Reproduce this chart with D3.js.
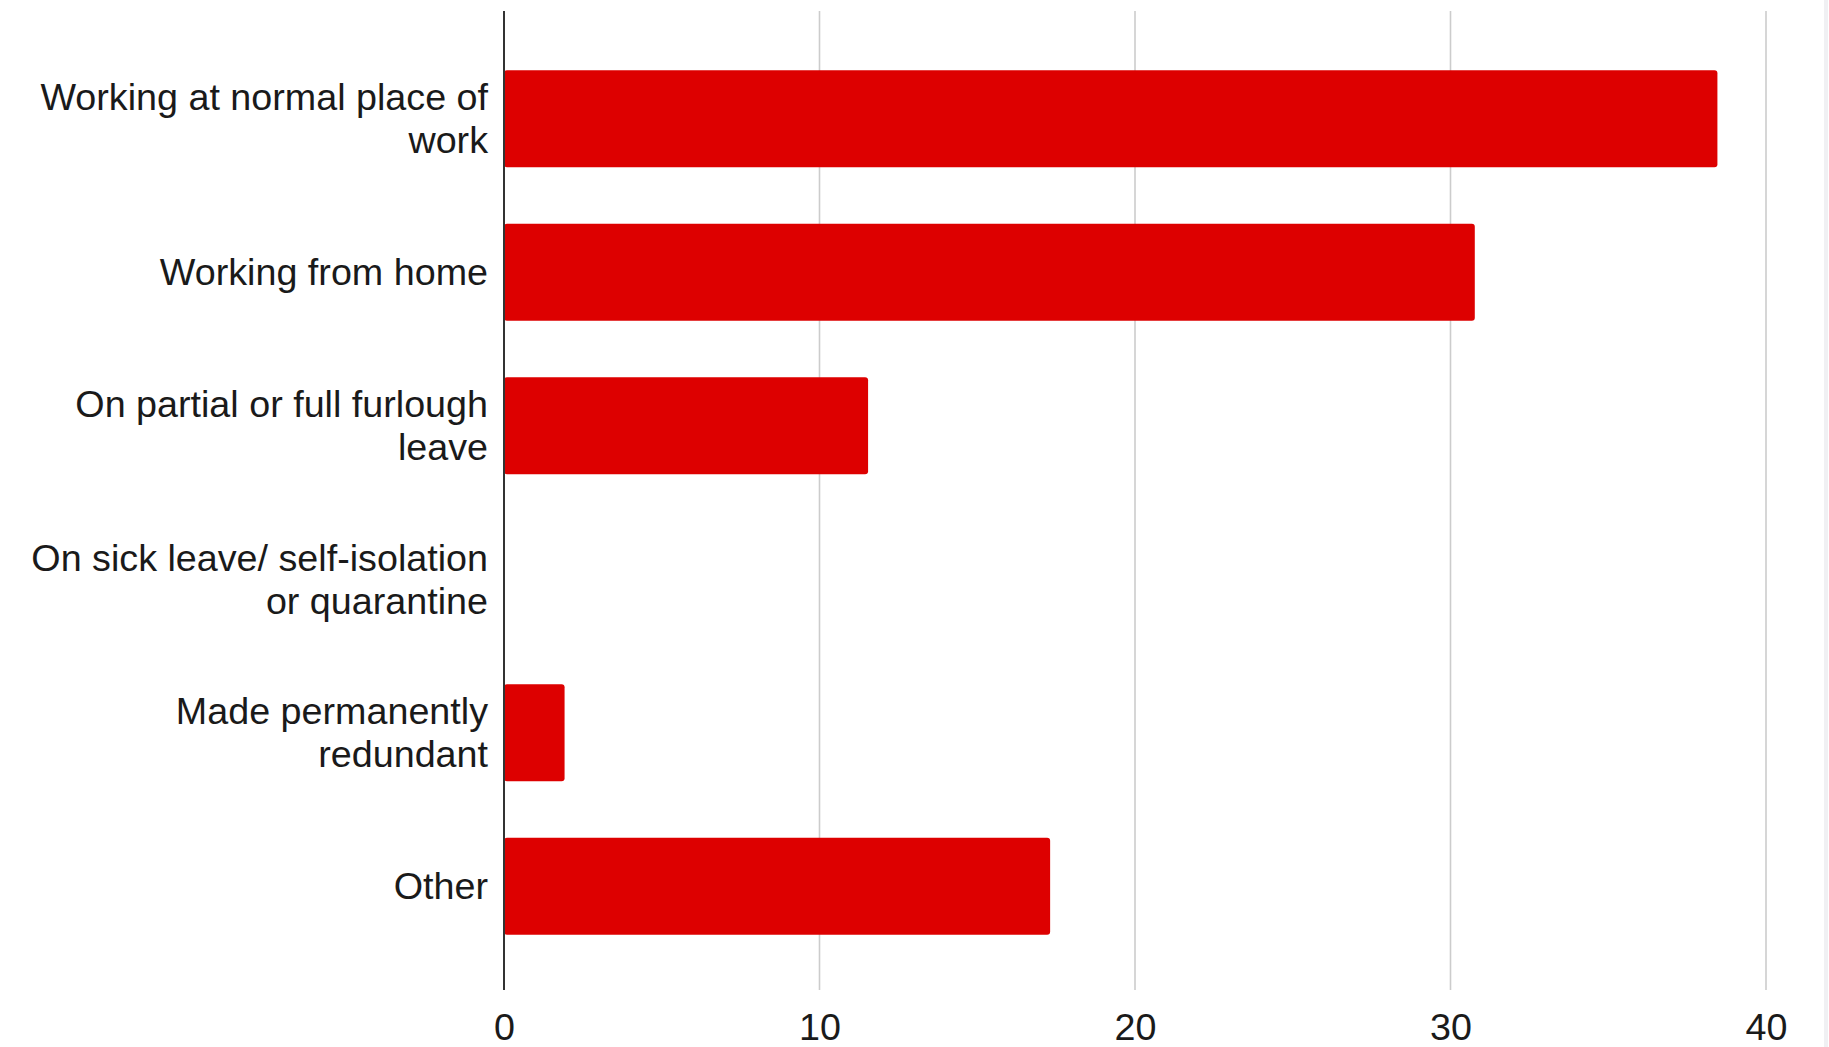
<!DOCTYPE html>
<html>
<head>
<meta charset="utf-8">
<script src="https://cdn.jsdelivr.net/npm/d3@7"></script>
<style>
  html, body { margin: 0; padding: 0; background: #fff; }
  svg { display: block; }
  text { font-family: "Liberation Sans", Arial, sans-serif; fill: #1a1a1a; }
</style>
</head>
<body>
<svg id="chart" width="1829" height="1047"></svg>
<script>
// Employment status categories (each entry is the wrapped lines of its label)
const categories = [
  ["Working at normal place of", "work"],
  ["Working from home"],
  ["On partial or full furlough", "leave"],
  ["On sick leave/ self-isolation", "or quarantine"],
  ["Made permanently", "redundant"],
  ["Other"]
];
// Share of respondents (%)
const values = [38.46, 30.77, 11.54, 0, 1.92, 17.31];
const xTicks = [0, 10, 20, 30, 40];

const W = 1829, H = 1047;
const svg = d3.select("#chart");

const plotLeft = 504, plotRight = 1766;
const plotTop = 11, plotBottom = 990;
const fontSize = 37.7;

const x = d3.scaleLinear().domain([0, 40]).range([plotLeft, plotRight]);
const y = d3.scaleBand()
  .domain(d3.range(categories.length))
  .range([42, 963])
  .paddingInner(0.368)
  .paddingOuter(0.184);

const rows = values.map((v, i) => ({ v, i }));

// vertical gridlines
svg.append("g")
  .selectAll("line")
  .data(xTicks.filter(d => d !== 0))
  .join("line")
  .attr("x1", d => x(d)).attr("x2", d => x(d))
  .attr("y1", plotTop).attr("y2", plotBottom)
  .attr("stroke", "#cccccc")
  .attr("stroke-width", 1.6);

// bars (zero-valued categories draw nothing)
svg.append("g")
  .selectAll("rect")
  .data(rows.filter(d => d.v > 0))
  .join("rect")
  .attr("x", x(0))
  .attr("y", d => y(d.i))
  .attr("width", d => x(d.v) - x(0))
  .attr("height", y.bandwidth())
  .attr("rx", 3).attr("ry", 3)
  .attr("fill", "#dd0000");

// baseline axis at zero
svg.append("line")
  .attr("x1", x(0)).attr("x2", x(0))
  .attr("y1", plotTop).attr("y2", plotBottom)
  .attr("stroke", "#333333")
  .attr("stroke-width", 2);

// category labels
const labelG = svg.append("g");
categories.forEach((lines, i) => {
  const cy = y(i) + y.bandwidth() / 2;
  const lh = 43;
  const t = labelG.append("text")
    .attr("text-anchor", "end")
    .attr("font-size", fontSize)
    .attr("x", plotLeft - 16)
    .attr("y", cy - (lines.length - 1) * lh / 2);
  lines.forEach((ln, k) => {
    t.append("tspan")
      .attr("x", plotLeft - 16)
      .attr("dy", k === 0 ? "0.35em" : lh)
      .text(ln);
  });
});

// x-axis tick labels
const xAxis = d3.axisBottom(x).tickValues(xTicks).tickSize(0).tickPadding(0);
const ax = svg.append("g")
  .attr("transform", `translate(0, ${plotBottom})`)
  .call(xAxis);
ax.select(".domain").remove();
ax.selectAll("text")
  .attr("font-size", fontSize)
  .attr("fill", "#1a1a1a")
  .attr("y", 37)
  .attr("dy", "0.35em")
  .style("font-family", "'Liberation Sans', Arial, sans-serif");

// faint right border
svg.append("rect")
  .attr("x", W - 5).attr("y", 0)
  .attr("width", 4).attr("height", H)
  .attr("fill", "#f0f0f3");
</script>
</body>
</html>
